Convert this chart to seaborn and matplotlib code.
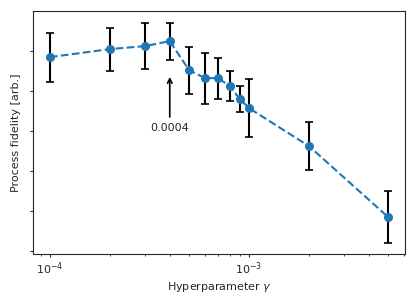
import matplotlib
matplotlib.use("Agg")
import matplotlib.pyplot as plt
import seaborn as sns
import pandas as pd

# hyperparameter values and measured fidelity (arbitrary units)
gamma = [1e-4, 2e-4, 3e-4, 4e-4, 5e-4, 6e-4, 7e-4, 8e-4, 9e-4, 1e-3, 2e-3, 5e-3]
fidelity = [0.897, 0.901, 0.9025, 0.905, 0.8905, 0.8865, 0.8865, 0.8825,
            0.876, 0.8715, 0.8525, 0.817]
err = [0.0122, 0.0108, 0.0115, 0.0093, 0.0118, 0.0128, 0.0103, 0.0075,
       0.0065, 0.0145, 0.0118, 0.013]

df = pd.DataFrame({'gamma': gamma, 'fidelity': fidelity, 'err': err})

sns.set_style("ticks")
plt.rcParams['font.family'] = ['DejaVu Sans']
plt.rcParams['font.size'] = 8

fig = plt.figure(figsize=(4.15, 2.93), dpi=100)
ax = fig.add_axes([0.0795, 0.133, 0.8965, 0.829])

ax.errorbar(df['gamma'], df['fidelity'], yerr=df['err'], fmt='none',
            ecolor='black', capsize=3, elinewidth=1.5, capthick=1.2, zorder=1)
sns.lineplot(data=df, x='gamma', y='fidelity', ax=ax, color='#1f77b4',
             linestyle='--', linewidth=1.5, marker='o', markersize=6.5,
             markeredgewidth=0, zorder=2)

ax.set_xscale('log')
ax.set_xlim(10 ** -4.085, 10 ** -2.216)
ax.set_ylim(0.7985, 0.920)
ax.set_yticks([0.80, 0.82, 0.84, 0.86, 0.88, 0.90])
ax.set_yticklabels([])

ax.annotate('0.0004', xy=(4e-4, 0.8885), xytext=(4e-4, 0.8615),
            ha='center', va='center', fontsize=8,
            arrowprops=dict(arrowstyle='->', color='black', lw=1.2))

ax.set_xlabel('Hyperparameter $\\gamma$', fontsize=8, labelpad=2)
ax.set_ylabel('Process fidelity [arb.]', fontsize=8, labelpad=4)
ax.tick_params(which='major', length=2.5, width=0.8, pad=2, labelsize=8)
ax.tick_params(which='minor', length=1.5, width=0.6)

fig.savefig('out.png', dpi=100)
